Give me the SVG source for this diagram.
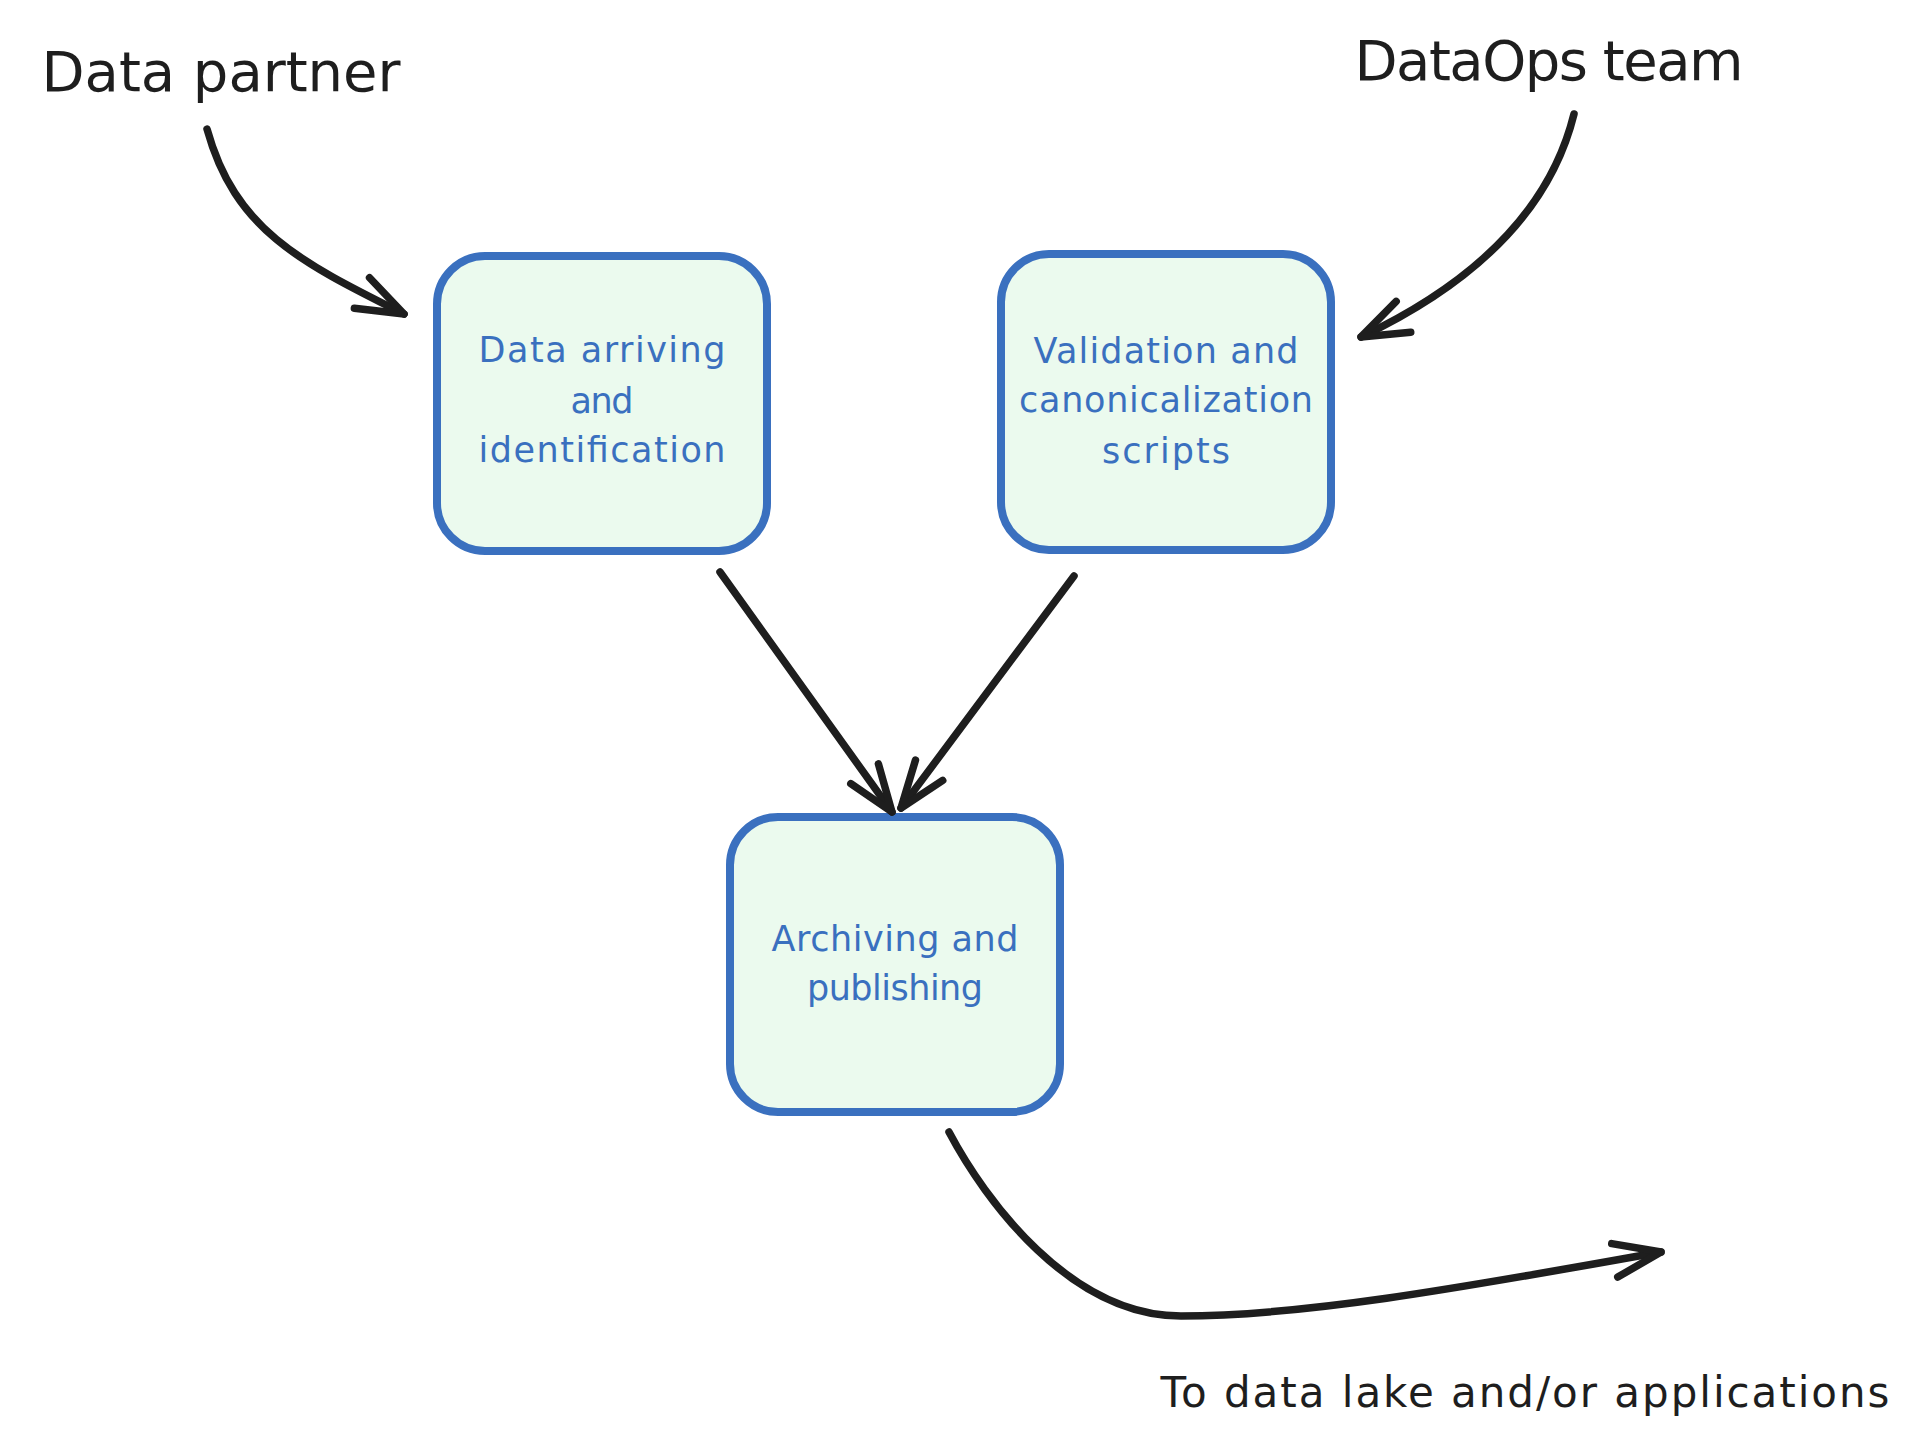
<svg xmlns="http://www.w3.org/2000/svg" width="1920" height="1450" viewBox="0 0 1920 1450">
<style>
.box{fill:#ebfaee;stroke:#3a70bf;stroke-width:8}
.btxt{font-family:"DejaVu Sans","Liberation Sans",sans-serif;font-size:35px;fill:#3a70bf;text-anchor:middle}
.lbl{font-family:"DejaVu Sans","Liberation Sans",sans-serif;fill:#1e1e1e;text-anchor:middle}
.con{fill:none;stroke:#1e1e1e;stroke-width:7.5;stroke-linecap:round;stroke-linejoin:round;marker-end:url(#ah)}
</style>
<defs>
<marker id="ah" viewBox="-60 -30 70 60" refX="0" refY="0" markerWidth="70" markerHeight="60" markerUnits="userSpaceOnUse" orient="auto">
<path d="M-47,-17 L0,0 L-47,17" fill="none" stroke="#1e1e1e" stroke-width="7.5" stroke-linecap="round" stroke-linejoin="round"/>
</marker>
</defs>
<rect width="1920" height="1450" fill="#ffffff"/>
<g id="label-data-partner"><text class="lbl" x="221" y="91" font-size="56" textLength="359">Data partner</text></g>
<g id="label-dataops-team"><text class="lbl" x="1549" y="80" font-size="56" textLength="389">DataOps team</text></g>
<g id="label-destination"><text class="lbl" x="1525" y="1407" font-size="42" textLength="729">To data lake and/or applications</text></g>
<g id="node-arriving">
<rect class="box" x="437" y="256" width="330" height="295" rx="48"/>
<text class="btxt" x="602" y="362" textLength="247">Data arriving</text>
<text class="btxt" x="602" y="413" textLength="63">and</text>
<text class="btxt" x="602" y="462" textLength="247">identification</text>
</g>
<g id="node-validation">
<rect class="box" x="1001" y="254" width="330" height="296" rx="48"/>
<text class="btxt" x="1166" y="363" textLength="265">Validation and</text>
<text class="btxt" x="1166" y="412" textLength="294">canonicalization</text>
<text class="btxt" x="1166" y="463" textLength="128">scripts</text>
</g>
<g id="node-archiving">
<rect class="box" x="730" y="817" width="330" height="295" rx="48"/>
<text class="btxt" x="895" y="951" textLength="247">Archiving and</text>
<text class="btxt" x="895" y="1000" textLength="176">publishing</text>
</g>
<g id="connectors">
<path class="con" d="M207,129 C235,230 300,262 404,314"/>
<path class="con" d="M1574,114 Q1540,252 1361,337"/>
<path class="con" d="M720,572 L892,812"/>
<path class="con" d="M1074,576 L901,808"/>
<path class="con" d="M949,1132 C985,1200 1070,1316 1181,1316 C1300,1316 1450,1290 1661,1252"/>
</g>
</svg>
